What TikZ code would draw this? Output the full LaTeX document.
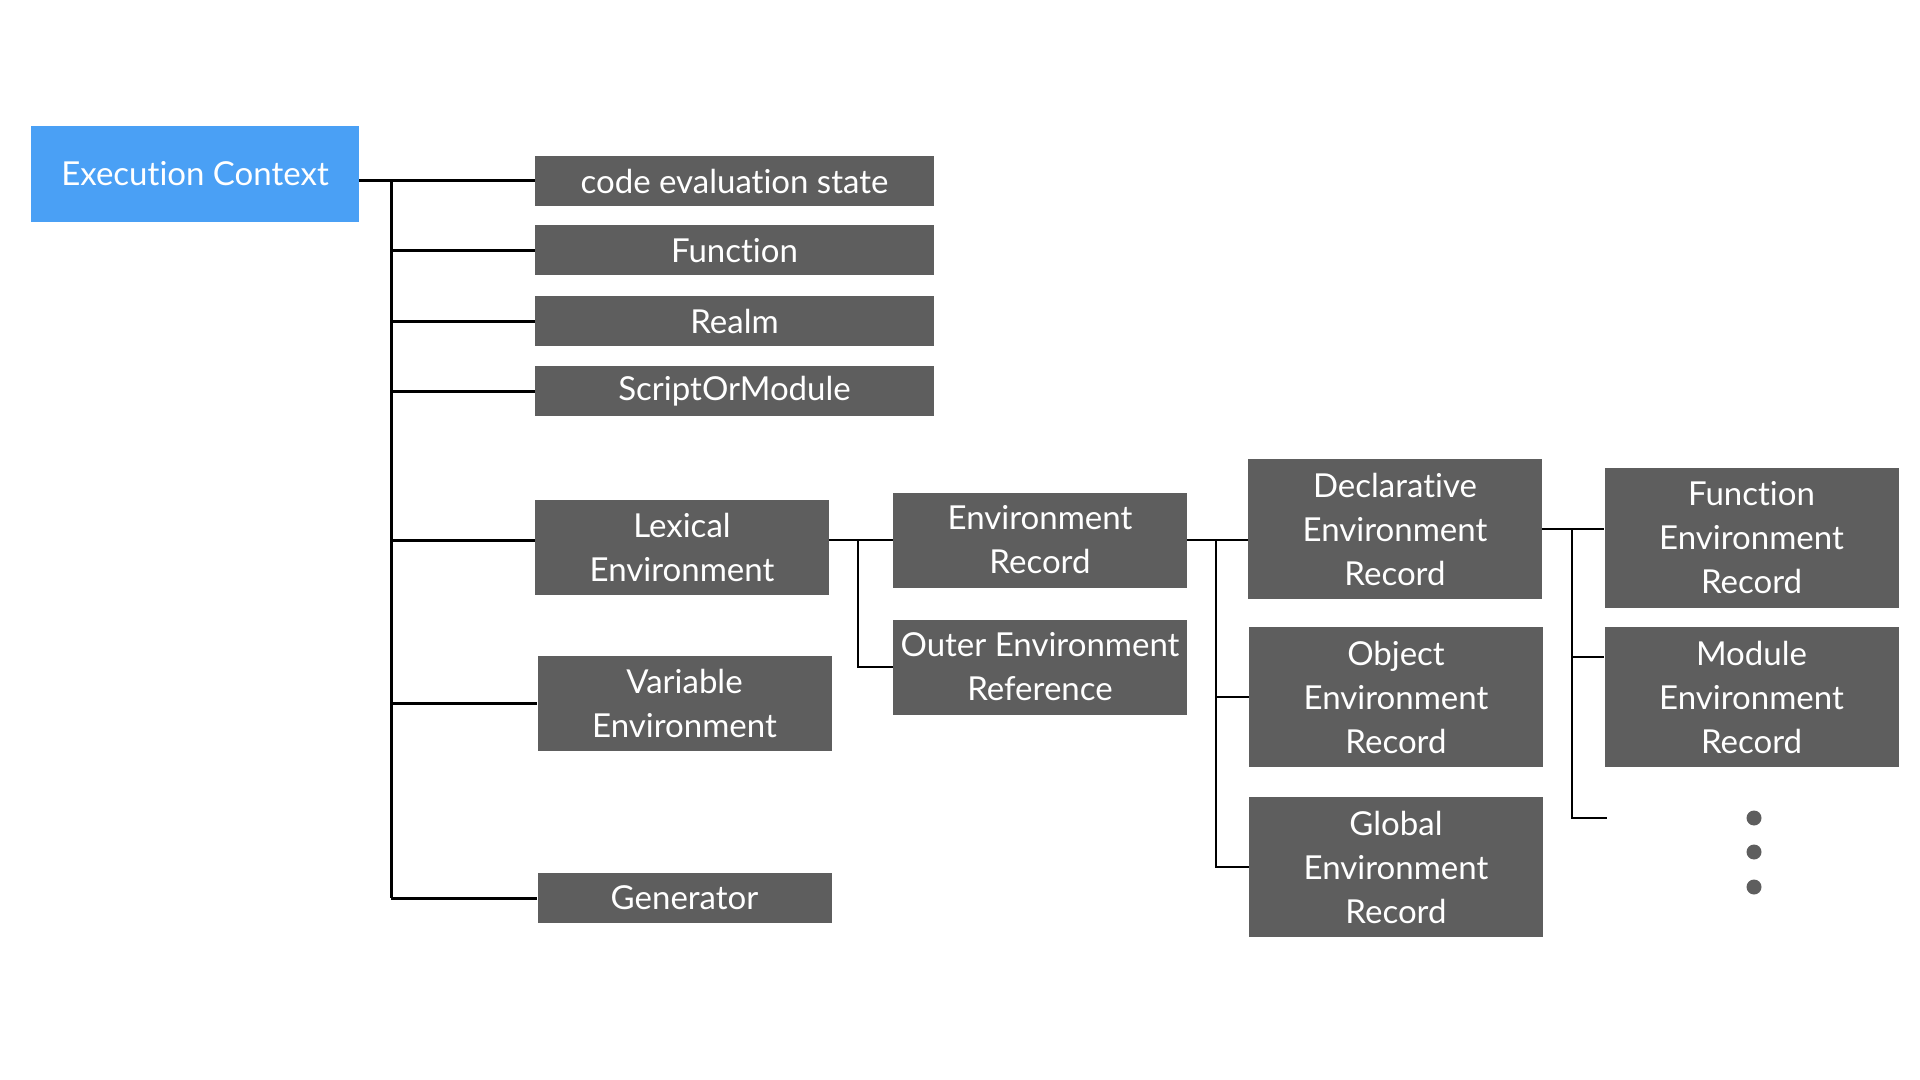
\documentclass[tikz,border=0pt]{standalone}
\usepackage{fontspec}
\setmainfont{Lato}[Ligatures=NoCommon]
\usepackage{tikz}
\usetikzlibrary{positioning,calc}
\definecolor{ecblue}{RGB}{74,160,245}
\definecolor{boxgray}{RGB}{94,94,94}

\begin{document}
\begin{tikzpicture}[x=0.5pt,y=-0.5pt,
  box/.style={fill=boxgray, text=white, inner sep=0pt, align=center,
    font=\fontsize{16.5}{22}\selectfont},
  attrbox/.style={box, minimum width=199.5pt, minimum height=25pt},
  envbox/.style={box, minimum width=147pt, minimum height=47.5pt},
  recbox/.style={box, minimum width=147pt, minimum height=70pt},
  trunk/.style={line width=1.5pt},
  branch/.style={line width=1pt}]
  \useasboundingbox (0,0) rectangle (1920,1080);
  % root
  \node[box, fill=ecblue, minimum width=164pt, minimum height=48pt] (ec) at (195,174) {Execution Context};
  % first level
  \node[attrbox] (ces) at (734.5,181) {code evaluation state};
  \node[attrbox] (fn) at (734.5,250.5) {Function};
  \node[attrbox] (realm) at (734.5,321.5) {Realm};
  \node[attrbox] (som) at (734.5,391) {ScriptOrModule};
  \node[envbox] (lex) at (682,547) {Lexical\\Environment};
  \node[envbox] (var) at (684.5,703.5) {Variable\\Environment};
  \node[attrbox, minimum width=147pt] (gen) at (684.5,898) {Generator};
  % lexical environment parts
  \node[envbox] (er) at (1040,540) {Environment\\Record};
  \node[envbox] (outer) at (1040,667) {Outer Environment\\Reference};
  % environment record kinds
  \node[recbox] (decl) at (1395,529) {Declarative\\Environment\\Record};
  \node[recbox] (obj) at (1396,697) {Object\\Environment\\Record};
  \node[recbox] (glob) at (1396,867) {Global\\Environment\\Record};
  % declarative kinds
  \node[recbox] (fer) at (1751.5,538) {Function\\Environment\\Record};
  \node[recbox] (mer) at (1751.5,697) {Module\\Environment\\Record};
  \coordinate (more) at (1607,818);
  \foreach \y in {818,852,887}
    \fill[boxgray] (1754,\y) circle (3.75pt);

  % trunk from the execution context
  \coordinate (t) at (391,0);
  \draw[trunk] (ec.east |- ces) -- (ces.west);
  \draw[trunk] (t |- ces) -- (t |- gen);
  \foreach \n in {fn,realm,som,var,gen}
    \draw[trunk] (t |- \n) -- (\n.west);
  \draw[trunk] (t |- er) -- (lex.west |- er);
  % lexical environment branch
  \coordinate (l) at (858,0);
  \draw[branch] (lex.east |- er) -- (er.west);
  \draw[branch] (l |- er) -- (l |- outer) -- (outer.west);
  % environment record branch
  \coordinate (r) at (1216,0);
  \draw[branch] (er.east) -- (decl.west |- er);
  \draw[branch] (r |- er) -- (r |- glob) -- (glob.west);
  \draw[branch] (r |- obj) -- (obj.west);
  % declarative branch
  \coordinate (d) at (1572,0);
  \draw[branch] (decl.east) -- (fer.west |- decl);
  \draw[branch] (d |- decl) -- (d |- more) -- (more);
  \draw[branch] (d |- 0,657) -- (mer.west |- 0,657);
\end{tikzpicture}
\end{document}
